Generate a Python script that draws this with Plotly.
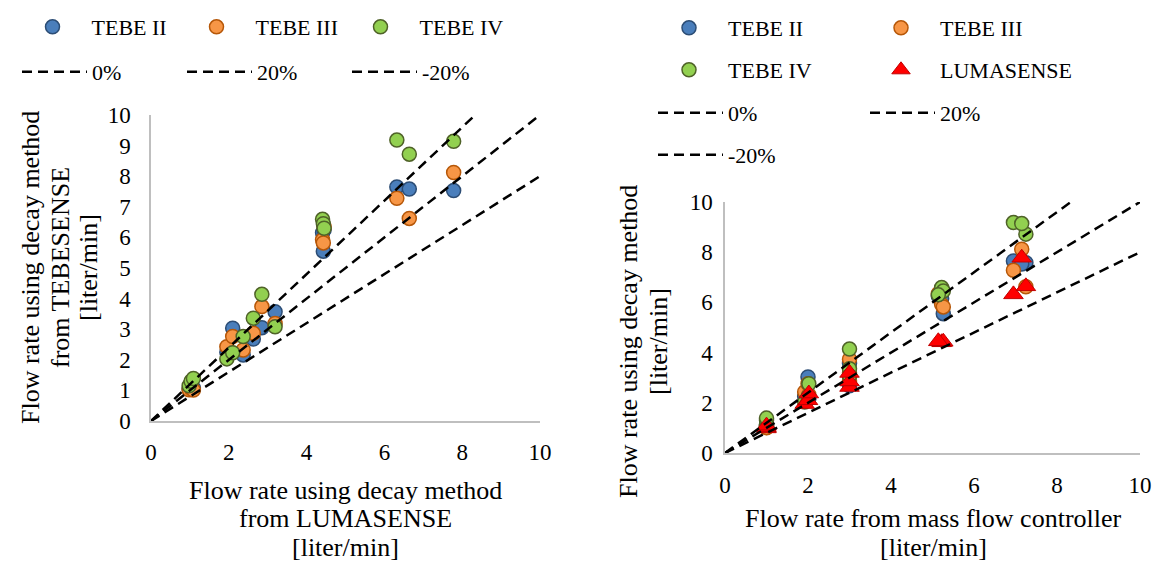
import plotly.graph_objects as go

# ---------------- data ----------------
# one entry per test: flow from the mass flow controller, LUMASENSE and TEBESENSE decay results
mfc_flow = [1.00, 1.00, 1.00, 1.92, 2.00, 2.02, 3.00, 3.00, 3.00, 5.22, 5.26, 5.14, 6.95, 7.25, 7.15]
lumasense = [0.98, 1.03, 1.09, 1.95, 2.10, 2.37, 2.63, 2.85, 3.19, 4.41, 4.43, 4.45, 6.32, 6.64, 7.78]
tebe_ii = [1.05, 1.12, 1.08, 2.25, 3.03, 2.16, 2.68, 3.05, 3.57, 6.15, 5.55, 6.25, 7.65, 7.58, 7.53]
tebe_iii = [1.02, 1.06, 1.01, 2.43, 2.76, 2.32, 2.87, 3.74, 3.19, 5.92, 5.82, 6.35, 7.28, 6.62, 8.12]
tebe_iv = [1.15, 1.30, 1.39, 2.03, 2.23, 2.76, 3.36, 4.14, 3.08, 6.59, 6.45, 6.30, 9.18, 8.72, 9.14]

series_names = ["TEBE II", "TEBE III", "TEBE IV"]
deviation_names = ["0%", "20%", "-20%"]
deviation_factors = [1.0, 1.2, 0.8]
ref_x = [0, 10]

x_ticks_left = [0, 2, 4, 6, 8, 10]
y_ticks_left = [0, 1, 2, 3, 4, 5, 6, 7, 8, 9, 10]
ticks_right = [0, 2, 4, 6, 8, 10]

# ---------------- styling ----------------
# the page body has an 8px margin, so the figure is drawn 8px smaller and
# every position below is given in window pixels and shifted by that offset
OFF = 8
W, H = 1161 - OFF, 561 - OFF
FONT = "Liberation Serif"
fills = ["#4A7EBB", "#F79646", "#92D050"]
edges = ["#2C4D75", "#B65708", "#4F6228"]
DASH = "10px,6px"


def px_x(p):
    return (p - OFF) / W


def px_y(p):
    return 1 - (p - OFF) / H


fig = go.Figure()

tebe_series = [tebe_ii, tebe_iii, tebe_iv]

# ---- left chart: TEBESENSE vs LUMASENSE ----
for name, vals, fc, ec in zip(series_names, tebe_series, fills, edges):
    fig.add_trace(go.Scatter(
        x=lumasense, y=vals, mode="markers", name=name,
        marker=dict(size=14, color=fc, line=dict(color=ec, width=1.5)),
        xaxis="x", yaxis="y", legend="legend"))
for name, f in zip(deviation_names, deviation_factors):
    fig.add_trace(go.Scatter(
        x=ref_x, y=[f * v for v in ref_x], mode="lines", name=name,
        line=dict(color="black", width=2.5, dash=DASH),
        xaxis="x", yaxis="y", legend="legend2"))

# ---- right chart: decay methods vs mass flow controller ----
right_legends = ["legend3", "legend3", "legend4"]
for name, vals, fc, ec, lg in zip(series_names, tebe_series, fills, edges, right_legends):
    fig.add_trace(go.Scatter(
        x=mfc_flow, y=vals, mode="markers", name=name,
        marker=dict(size=14, color=fc, line=dict(color=ec, width=1.5)),
        xaxis="x2", yaxis="y2", legend=lg))
fig.add_trace(go.Scatter(
    x=mfc_flow, y=lumasense, mode="markers", name="LUMASENSE",
    marker=dict(size=17, symbol="triangle-up", color="#FF0000",
                line=dict(color="#C00000", width=1)),
    xaxis="x2", yaxis="y2", legend="legend4", legendwidth=150))
for name, f, lg in zip(deviation_names, deviation_factors, ["legend5", "legend5", "legend6"]):
    fig.add_trace(go.Scatter(
        x=ref_x, y=[f * v for v in ref_x], mode="lines", name=name,
        line=dict(color="black", width=2.5, dash=DASH),
        xaxis="x2", yaxis="y2", legend=lg))

axis_common = dict(
    range=[0, 10], showgrid=False, zeroline=False, showline=True,
    linecolor="#BFBFBF", linewidth=1.5, ticks="outside",
    tickcolor="rgba(0,0,0,0)", tickfont=dict(family=FONT, size=23, color="black"),
    fixedrange=True,
)

fig.update_layout(
    width=W, height=H,
    margin=dict(l=0, r=0, t=0, b=0, autoexpand=False),
    paper_bgcolor="white", plot_bgcolor="white",
    font=dict(family=FONT, color="black"),
    xaxis=dict(domain=[px_x(151), px_x(540)], anchor="y", tickvals=x_ticks_left,
               ticklen=10, **axis_common),
    yaxis=dict(domain=[px_y(421), px_y(115)], anchor="x", tickvals=y_ticks_left,
               ticklen=14, **axis_common),
    xaxis2=dict(domain=[px_x(725), px_x(1140)], anchor="y2", tickvals=ticks_right,
                ticklen=11, **axis_common),
    yaxis2=dict(domain=[px_y(453), px_y(202)], anchor="x2", tickvals=ticks_right,
                ticklen=6, **axis_common),
)

leg_common = dict(orientation="h", xanchor="left", yanchor="middle",
                  entrywidthmode="pixels",
                  bgcolor="rgba(0,0,0,0)", font=dict(family=FONT, size=22, color="black"),
                  itemclick=False, itemdoubleclick=False)

fig.update_layout(
    legend=dict(x=px_x(13.5), y=px_y(27), itemwidth=68, entrywidth=81, **leg_common),
    legend2=dict(x=px_x(17), y=px_y(72), itemwidth=65, entrywidth=85, **leg_common),
    legend3=dict(x=px_x(650), y=px_y(28), itemwidth=68, entrywidth=129, **leg_common),
    legend4=dict(x=px_x(650), y=px_y(70), itemwidth=68, entrywidth=129, **leg_common),
    legend5=dict(x=px_x(653), y=px_y(113), itemwidth=65, entrywidth=132, **leg_common),
    legend6=dict(x=px_x(653), y=px_y(155), itemwidth=65, entrywidth=132, **leg_common),
)

# ---- axis titles (one annotation per line to keep the tight line spacing) ----
TITLE_SIZE = 26
titles = [
    ("Flow rate using decay method", 345, 490, 0),
    ("from LUMASENSE", 345, 518, 0),
    ("[liter/min]", 345, 547, 0),
    ("Flow rate using decay method", 30, 268, -90),
    ("from TEBESENSE", 60, 268, -90),
    ("[liter/min]", 88, 268, -90),
    ("Flow rate from mass flow controller", 933, 518, 0),
    ("[liter/min]", 933, 547, 0),
    ("Flow rate using decay method", 628, 342, -90),
    ("[liter/min]", 658, 342, -90),
]
for text, xp, yp, ang in titles:
    fig.add_annotation(text=text, x=px_x(xp), y=px_y(yp), xref="paper", yref="paper",
                       xanchor="center", yanchor="middle", showarrow=False, textangle=ang,
                       font=dict(family=FONT, size=TITLE_SIZE, color="black"))

fig.write_html("out.html")
